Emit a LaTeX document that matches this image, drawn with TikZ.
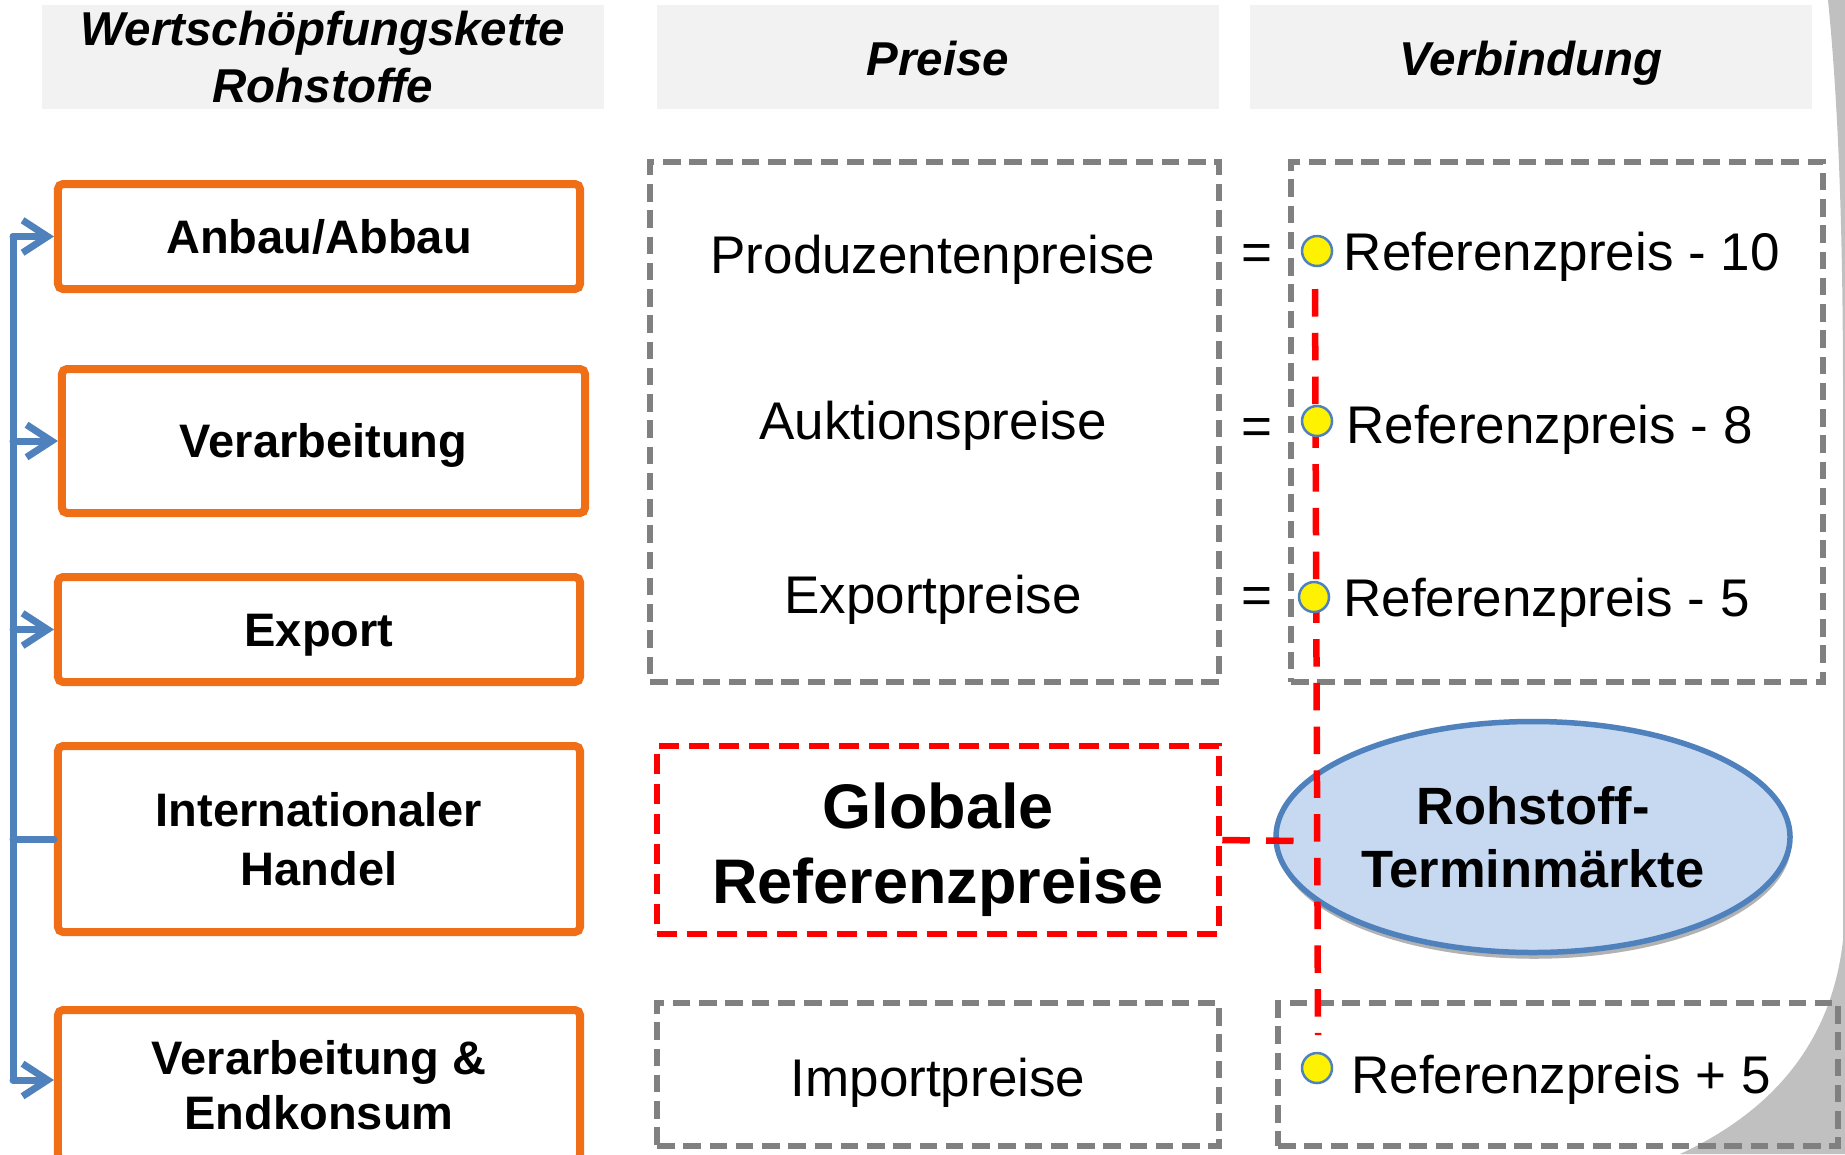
\documentclass[tikz,border=0pt]{standalone}
\usepackage{fontspec}
\setmainfont{Liberation Sans}
\usetikzlibrary{positioning}
\usetikzlibrary{calc}
\usetikzlibrary{shapes.geometric}
\usetikzlibrary{arrows.meta}
\usetikzlibrary{shadows}
\definecolor{head gray}{RGB}{242,242,242}
\definecolor{chain orange}{RGB}{240,110,22}
\definecolor{chain blue}{RGB}{79,129,189}
\definecolor{dash gray}{RGB}{128,128,128}
\definecolor{market fill}{RGB}{198,217,241}
\definecolor{curl gray}{RGB}{192,192,192}
\tikzset{
    % Open arrow heads for the value chain
    >={Straight Barb[length=10pt,width=13pt]},
%
    % Grey title bars above the three columns
    column head/.style={
        fill=head gray, inner sep=0, align=center,
        minimum width=224.8pt, minimum height=41.6pt,
        font=\bfseries\itshape\fontsize{19}{22.8}\selectfont},
    % Single line titles sit on their cap height
    one line head/.style={text height=14.5pt, text depth=0pt},
%
    % Orange boxes for the stages of the chain
    chain box/.style={
        draw=chain orange, line width=3.2pt, rounded corners=2pt,
        fill=white, inner sep=0, align=center, minimum width=208.8pt,
        font=\bfseries\fontsize{18.8}{23.6}\selectfont},
    one line box/.style={text height=13.5pt, text depth=0pt},
    % The blue line feeding the stages
    chain line/.style={draw=chain blue, line width=2.8pt,
        line cap=round, line join=round},
%
    % Grey dashed frames round the prices
    price frame/.style={
        draw=dash gray, line width=2.4pt, dash pattern=on 7pt off 3.5pt,
        inner sep=0},
    % Plain price labels
    price text/.style={inner sep=0, text height=15.2pt, text depth=0pt,
        font=\fontsize{21.2}{25}\selectfont},
%
    % Yellow dots on the reference line
    ref dot/.style={
        circle, draw=chain blue, line width=1pt, fill=yellow,
        inner sep=0, minimum size=12pt},
%
    % Red dashed link to the reference prices
    ref link/.style={draw=red, line width=2.6pt,
        dash pattern=on 11pt off 6.5pt}}

\begin{document}
\begin{tikzpicture}[x=0.4pt, y=-0.4pt]

\clip (0,0) rectangle (1845,1154);

% Curled page corner along the right edge
\fill[curl gray] (1828,0) .. controls (1840,120) and (1843,260) .. (1843,400)
    -- (1843,940) .. controls (1832,1040) and (1775,1110) .. (1680,1154)
    -- (1845,1154) -- (1845,0) -- cycle;

% Column titles
\path
    node[column head] (head chain) at (323,57)
        {Wertschöpfungskette\\Rohstoffe}
    node[column head, one line head] (head prices) at (938,57) {Preise}
    node[column head, one line head] (head link) at (1531,57) {Verbindung};

% Stages of the value chain
\path
    node[chain box, one line box, minimum height=42pt]
        (anbau) at (319,236.5) {Anbau/Abbau}
    node[chain box, one line box, minimum width=209.2pt, minimum height=57.6pt]
        (verarbeitung) at (323.5,441) {Verarbeitung}
    node[chain box, one line box, minimum height=42pt]
        (export) at (319,629.5) {Export}
    node[chain box, minimum height=74.4pt] (handel) at (319,839)
        {Internationaler\\Handel}
    node[chain box, minimum height=60pt,
        font=\bfseries\fontsize{18.8}{22}\selectfont]
        (endkonsum) at (319,1085) {Verarbeitung \&\\Endkonsum};

\coordinate (spine top) at (13,236.5);
\coordinate (spine bottom) at (13,1080);

\draw[chain line] (spine top) -- (spine bottom);
\draw[chain line, ->] (spine top) -- (anbau.west);
\draw[chain line, ->] (spine top |- verarbeitung.west) -- (verarbeitung.west);
\draw[chain line, ->] (spine top |- export.west) -- (export.west);
\draw[chain line] (spine top |- handel.west) -- (handel.west);
\draw[chain line, ->] (spine bottom) -- (spine bottom -| endkonsum.west);

% Local prices and their link to the reference price
\path
    node[price frame, minimum width=227.6pt, minimum height=208pt]
        (price frame) at (934.5,422) {}
    node[price frame, minimum width=212.8pt, minimum height=208pt]
        (link frame) at (1557,422) {};

\path
    node[price text] (produzenten) at (933,254) {Produzentenpreise}
    node[price text] (auktion) at (933,420) {Auktionspreise}
    node[price text] (exportpreise) at (933,594) {Exportpreise}
    node[price text] (eq one) at (1257,251) {=}
    node[price text] (eq two) at (1257,425) {=}
    node[price text] (eq three) at (1257,594) {=};

% Global reference prices and futures markets
\path
    node[draw=red, line width=2.6pt, dash pattern=on 8pt off 4pt,
        inner sep=0, minimum width=224.8pt, minimum height=75.2pt]
        (globale) at (938,840) {}
    node[inner sep=0, align=center,
        font=\bfseries\fontsize{25.2}{30}\selectfont]
        (globale text) at (938,850) {Globale\\Referenzpreise}
    node[ellipse, draw=chain blue, line width=2.2pt, fill=market fill,
        inner sep=0, minimum width=205.6pt, minimum height=92.4pt,
        align=center, font=\bfseries\fontsize{21}{25.2}\selectfont,
        drop shadow={shadow xshift=0.5pt, shadow yshift=-2.5pt,
            opacity=0.3, fill=black}]
        (terminmarkt) at (1533,837) {Rohstoff-\\Terminmärkte};

% Import prices
\path
    node[price frame, minimum width=224.8pt, minimum height=57.2pt]
        (import frame) at (938,1074.5) {}
    node[price frame, minimum width=224pt, minimum height=57.2pt]
        (import link frame) at (1558,1074.5) {}
    node[price text] (import) at (938,1077) {Importpreise};

% Red reference line
\coordinate (feed top) at (1315,289);
\coordinate (feed bottom) at (1318,1035);
\coordinate (link end) at (1300,841);

\draw[ref link] (feed top) -- (feed bottom);
\draw[ref link] (globale.east) -- (link end);

% Dots with the price formulas
\path
    node[ref dot] (dot one) at (1317,251) {}
    node[ref dot] (dot two) at (1317,421) {}
    node[ref dot] (dot three) at (1314,597) {}
    node[ref dot] (dot four) at (1317,1068) {};

\path
    node[price text, right=4pt of dot one] (ref one) {Referenzpreis - 10}
    node[price text, right=5pt of dot two, yshift=-1.5pt]
        (ref two) {Referenzpreis - 8}
    node[price text, right=5pt of dot three] (ref three) {Referenzpreis - 5}
    node[price text, right=7pt of dot four, yshift=-2.5pt]
        (ref four) {Referenzpreis + 5};

\end{tikzpicture}
\end{document}
